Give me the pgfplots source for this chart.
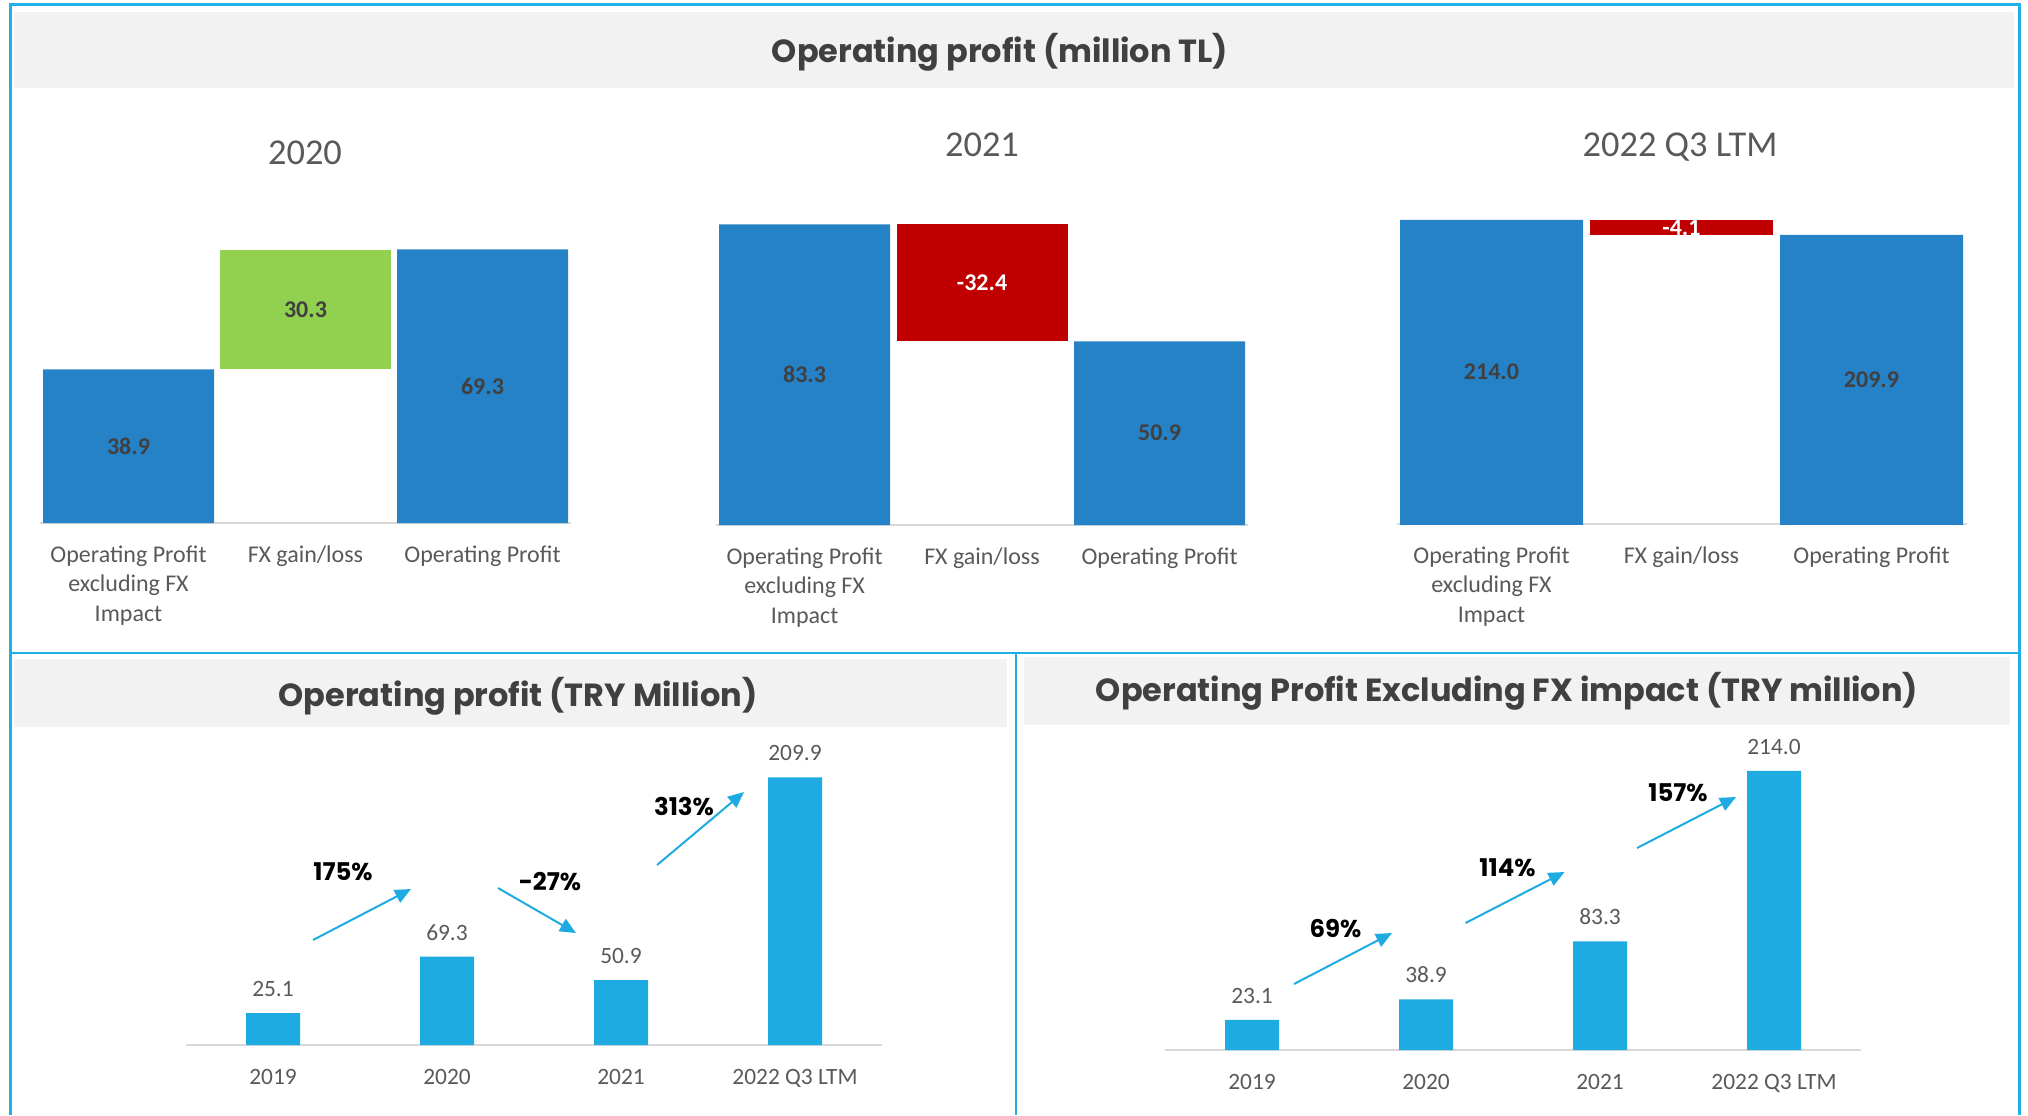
\documentclass[border=0pt]{standalone}
\usepackage{pgfplots}
\pgfplotsset{compat=1.18}
\usetikzlibrary{arrows.meta}
\usepackage{fontspec}
\setmainfont{Carlito}
\newfontfamily\pop{Poppins}
\definecolor{wfblue}{HTML}{2682C6}
\definecolor{wfgreen}{HTML}{92D050}
\definecolor{wfred}{HTML}{C00000}
\definecolor{cyanbar}{HTML}{1EABE2}
\definecolor{framec}{HTML}{1FB0E6}
\definecolor{band}{HTML}{F2F2F2}
\definecolor{txt}{HTML}{595959}
\definecolor{dtxt}{HTML}{404040}
\definecolor{axgray}{HTML}{D9D9D9}
\pgfplotsset{
  /pgf/number format/assume math mode=true,
  base/.style={
    anchor=south west, ymin=0, enlargelimits=false, clip=false,
    axis x line*=bottom, axis y line=none,
    x axis line style={-, draw=axgray, line width=1.1pt},
    major tick length=0pt, ytick=\empty,
    xticklabel style={font=\fontsize{12}{14.75}\selectfont, text=txt, align=center, anchor=north, inner sep=0pt, yshift=-11pt},
  },
  wf/.style={base, ybar stacked, xmin=-0.5, xmax=2.5, xtick={0,1,2},
    xticklabels={{Operating Profit\\excluding FX\\Impact},{FX gain/loss},{Operating Profit}}},
  lab/.style={nodes near coords, point meta=explicit symbolic,
    every node near coord/.style={anchor=center, inner sep=0pt,
      font=\bfseries\fontsize{12}{14}\selectfont, text=#1}},
  bc/.style={base, ybar, bar width=27pt, x=87pt, xmin=-0.5, xmax=3.5, xtick={0,1,2,3},
    xticklabels={2019,2020,2021,2022 Q3 LTM},
    xticklabel style={font=\fontsize{11.7}{14}\selectfont, yshift=-0.75pt},
    nodes near coords={\pgfmathprintnumber[fixed,zerofill,precision=1]{\pgfplotspointmeta}},
    every node near coord/.append style={font=\fontsize{11.7}{14}\selectfont, text=txt, anchor=south, inner sep=0pt, yshift=8pt}},
}
\tikzset{
  pct/.style={font=\pop\bfseries\fontsize{12.2}{14}\selectfont, text=black},
  arr/.style={draw=cyanbar, line width=1pt, -{Triangle[length=8pt,width=7pt]}},
  sub/.style={font=\fontsize{18.2}{20}\selectfont, text=txt},
  ttl/.style={font=\pop\bfseries\fontsize{16}{19}\selectfont, text=dtxt},
}
\begin{document}
\begin{tikzpicture}
\path[use as bounding box] (0pt,0pt) rectangle (1014pt,-557.5pt);
% bands
\fill[band] (7pt,-6pt) rectangle (1007pt,-44pt);
\fill[band] (7pt,-329.5pt) rectangle (503.5pt,-363.5pt);
\fill[band] (512pt,-328.5pt) rectangle (1005pt,-362.5pt);
% frame
\draw[framec, line width=1.5pt] (5.25pt,-557.5pt) -- (5.25pt,-2.25pt) -- (1009.5pt,-2.25pt) -- (1009.5pt,-557.5pt);
\draw[framec, line width=1.3pt] (5.25pt,-326.5pt) -- (1009.5pt,-326.5pt);
\draw[framec, line width=1.3pt] (508pt,-326.5pt) -- (508pt,-557.5pt);
% titles
\node[ttl] at (500pt,-26pt) {Operating profit (million TL)};
\node[ttl] at (259pt,-348.25pt) {Operating profit (TRY Million)};
\node[ttl] at (753.5pt,-345.5pt) {Operating Profit Excluding FX impact (TRY million)};
\node[sub] at (152.5pt,-76.2pt) {2020};
\node[sub] at (491pt,-72.3pt) {2021};
\node[sub] at (840pt,-73.3pt) {2022 Q3 LTM};
% waterfall 2020
\begin{axis}[wf, at={(20pt,-261.5pt)}, x=88.5pt, y=1.975pt, ymax=70, bar width=85.5pt]
\addplot[draw=none, fill=none] coordinates {(0,0) (1,38.9) (2,0)};
\addplot[draw=none, fill=wfblue, lab=dtxt] coordinates {(0,38.9) [38.9] (1,0) [] (2,69.3) [69.3]};
\addplot[draw=none, fill=wfgreen, lab=dtxt] coordinates {(0,0) [] (1,30.3) [30.3] (2,0) []};
\end{axis}
% waterfall 2021
\begin{axis}[wf, at={(357.9pt,-262.5pt)}, x=88.75pt, y=1.805pt, ymax=84, bar width=85.5pt]
\addplot[draw=none, fill=none] coordinates {(0,0) (1,50.9) (2,0)};
\addplot[draw=none, fill=wfblue, lab=dtxt] coordinates {(0,83.3) [83.3] (1,0) [] (2,50.9) [50.9]};
\addplot[draw=none, fill=wfred, lab=white] coordinates {(0,0) [] (1,32.4) [-32.4] (2,0) []};
\end{axis}
% waterfall 2022 Q3 LTM (value axis starts at 130)
\begin{axis}[wf, at={(698.25pt,-262pt)}, x=95pt, y=1.81pt, ymin=130, ymax=220, bar width=91.5pt, clip=true, clip mode=individual]
\addplot[draw=none, fill=none] coordinates {(0,0) (1,209.9) (2,0)};
\addplot[draw=none, fill=wfblue, lab=dtxt, every node near coord/.append style={yshift=117.65pt}] coordinates {(0,214.0) [214.0] (1,0) [] (2,209.9) [209.9]};
\addplot[draw=none, fill=wfred, lab=white] coordinates {(0,0) [] (1,4.1) [-4.1] (2,0) []};
\end{axis}
% bottom left
\begin{axis}[bc, at={(93pt,-522.5pt)}, y=0.6375pt, ymax=215]
\addplot[draw=none, fill=cyanbar] coordinates {(0,25.1) (1,69.3) (2,50.9) (3,209.9)};
\end{axis}
% bottom right
\begin{axis}[bc, at={(582.5pt,-525pt)}, y=0.652pt, ymax=215]
\addplot[draw=none, fill=cyanbar] coordinates {(0,23.1) (1,38.9) (2,83.3) (3,214.0)};
\end{axis}
% arrows and growth labels
\draw[arr] (156.5pt,-470pt) -- (205.5pt,-444.5pt);
\draw[arr] (249pt,-444pt) -- (288pt,-466.5pt);
\draw[arr] (328.5pt,-432.5pt) -- (372pt,-396pt);
\draw[arr] (647pt,-492pt) -- (696pt,-466.5pt);
\draw[arr] (732.75pt,-461.5pt) -- (782.25pt,-436pt);
\draw[arr] (818.5pt,-424pt) -- (868pt,-398.5pt);
\node[pct] at (171.5pt,-436pt) {175\%};
\node[pct] at (275pt,-441pt) {-27\%};
\node[pct] at (342pt,-403.5pt) {313\%};
\node[pct] at (667.75pt,-464.5pt) {69\%};
\node[pct] at (753.75pt,-434pt) {114\%};
\node[pct] at (839pt,-396.5pt) {157\%};
\end{tikzpicture}
\end{document}
